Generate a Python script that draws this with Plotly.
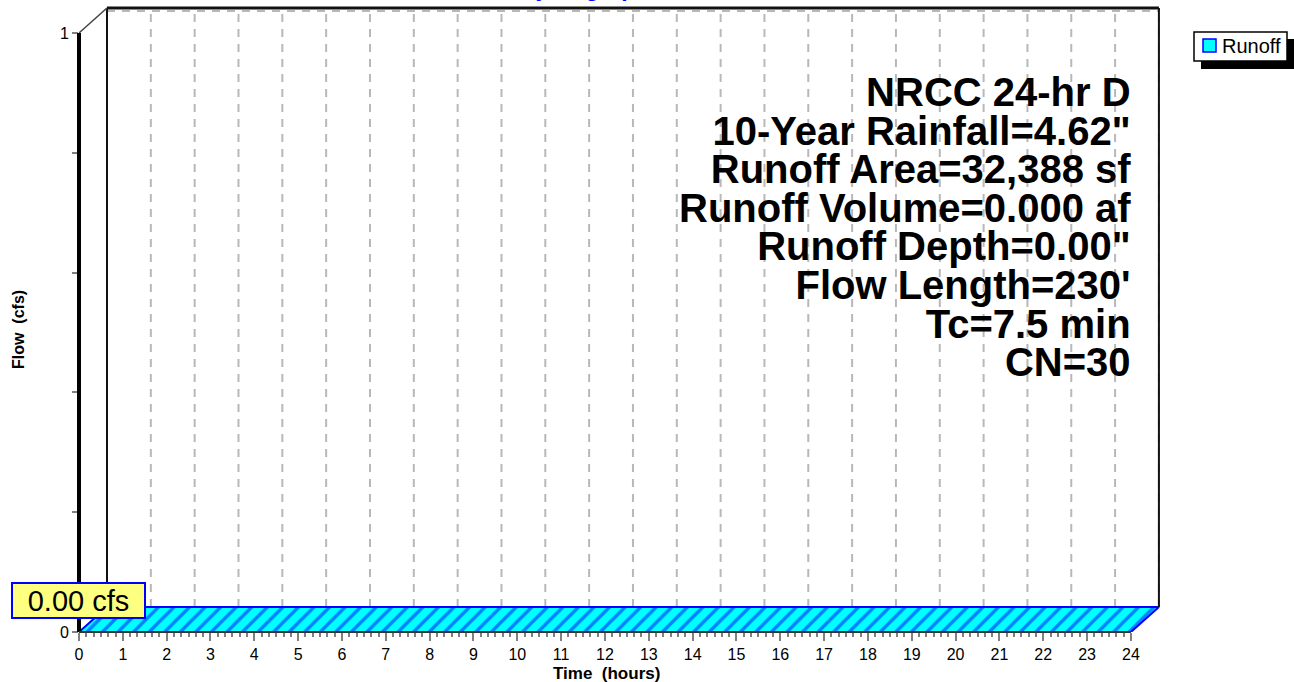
import plotly.graph_objects as go

# Runoff hydrograph values (cfs) at each hour
hours = [0, 1, 2, 3, 4, 5, 6, 7, 8, 9, 10, 11, 12,
         13, 14, 15, 16, 17, 18, 19, 20, 21, 22, 23, 24]
flow_cfs = [0.00, 0.00, 0.00, 0.00, 0.00, 0.00, 0.00, 0.00, 0.00, 0.00, 0.00, 0.00, 0.00,
            0.00, 0.00, 0.00, 0.00, 0.00, 0.00, 0.00, 0.00, 0.00, 0.00, 0.00, 0.00]

info_lines = [
    "NRCC 24-hr D",
    "10-Year Rainfall=4.62\"",
    "Runoff Area=32,388 sf",
    "Runoff Volume=0.000 af",
    "Runoff Depth=0.00\"",
    "Flow Length=230'",
    "Tc=7.5 min",
    "CN=30",
]

x_tickvals = list(range(0, 25))
x_ticktext = [str(h) for h in x_tickvals]
y_tickvals = [0, 0.2, 0.4, 0.6, 0.8, 1]
y_ticktext = ["0", "", "", "", "", "1"]

FONT = "Liberation Sans, Arial, sans-serif"

# pixel geometry of the plot area
W, H = 1294, 682
L, R, T, B = 79, 124, 2, 50
PW, PH = W - L - R, H - T - B
PX_PER_HR = 43.83
PX_PER_CFS = 599.0
DX = 28 / PX_PER_HR      # depth offset of the 3d back plane
DY = 25 / PX_PER_CFS


def px(xp):
    return (xp - L) / PW


def py(yp):
    return (H - B - yp) / PH


fig = go.Figure()

# hatched runoff ribbon (front edge + offset back edge)
rib_x = hours + [h + DX for h in reversed(hours)] + [hours[0]]
rib_y = flow_cfs + [f + DY for f in reversed(flow_cfs)] + [flow_cfs[0]]
fig.add_trace(go.Scatter(
    x=rib_x, y=rib_y, name="Runoff", mode="lines",
    fill="toself", fillcolor="#00ffff",
    fillpattern=dict(shape="/", fgcolor="#0000ff", bgcolor="#00ffff", size=11, solidity=0.3),
    line=dict(color="#0000ff", width=2),
    showlegend=False, hoverinfo="skip",
))

shapes = []
grid = dict(color="#b8b8b8", width=2, dash="8px,7px")
for h in hours:
    shapes.append(dict(type="line", x0=h + DX, x1=h + DX, y0=DY, y1=1 + DY,
                       line=grid, layer="below"))
shapes.append(dict(type="line", x0=DX, x1=24 + DX, y0=1 + DY - 3 / PX_PER_CFS,
                   y1=1 + DY - 3 / PX_PER_CFS, line=grid, layer="below"))
# back plane border
shapes.append(dict(type="line", x0=DX, x1=24 + DX, y0=1 + DY, y1=1 + DY,
                   line=dict(color="#111111", width=3)))
shapes.append(dict(type="line", x0=24 + DX, x1=24 + DX, y0=DY, y1=1 + DY,
                   line=dict(color="#111111", width=2)))
shapes.append(dict(type="line", x0=DX, x1=DX, y0=DY, y1=1 + DY,
                   line=dict(color="#111111", width=2)))
shapes.append(dict(type="line", x0=0, x1=DX, y0=1, y1=1 + DY,
                   line=dict(color="#444444", width=1.5)))
# front axes
shapes.append(dict(type="line", xref="paper", x0=0, x1=0, yref="y", y0=0, y1=1,
                   line=dict(color="#000000", width=4)))
shapes.append(dict(type="line", xref="x", x0=0, x1=24, yref="paper", y0=0, y1=0,
                   line=dict(color="#333333", width=2)))

# legend box with shadow
shapes.append(dict(type="rect", xref="paper", yref="paper",
                   x0=px(1201), x1=px(1296), y0=py(39), y1=py(69),
                   fillcolor="#000000", line=dict(width=0)))
shapes.append(dict(type="rect", xref="paper", yref="paper",
                   x0=px(1194), x1=px(1287), y0=py(32), y1=py(61),
                   fillcolor="#ffffff", line=dict(color="#000000", width=1.5)))
shapes.append(dict(type="rect", xref="paper", yref="paper",
                   x0=px(1203), x1=px(1216), y0=py(39), y1=py(52),
                   fillcolor="#00ffff", line=dict(color="#0000ff", width=1.5)))

annotations = []
annotations.append(dict(xref="paper", yref="paper", x=px(1220), y=py(46),
                        xanchor="left", yanchor="middle", showarrow=False,
                        text="Runoff", font=dict(family=FONT, size=20, color="#000000")))

# info block: one text, tight line spacing (base size sets the spacing)
info_text = "<br>".join('<span style="font-size:40px"><b>%s</b></span>' % s for s in info_lines)
annotations.append(dict(xref="paper", yref="paper", x=px(1133), y=py(227),
                        xanchor="right", yanchor="middle", align="right", showarrow=False,
                        text=info_text,
                        font=dict(family=FONT, size=38.6 / 1.3, color="#000000")))

annotations.append(dict(xref="paper", yref="paper", x=px(78.5), y=py(600.5),
                        xanchor="center", yanchor="middle", showarrow=False,
                        text="%.2f cfs" % max(flow_cfs), width=131, height=33,
                        bgcolor="#ffff80", bordercolor="#0000ff", borderwidth=2, borderpad=0,
                        font=dict(family=FONT, size=29, color="#000000")))

annotations.append(dict(xref="paper", yref="paper", x=px(19), y=py(330),
                        xanchor="center", yanchor="middle", showarrow=False, textangle=-90,
                        text="<b>Flow\u00a0 (cfs)</b>",
                        font=dict(family=FONT, size=16, color="#000000")))
annotations.append(dict(xref="paper", yref="paper", x=px(606), y=py(673),
                        xanchor="center", yanchor="middle", showarrow=False,
                        text="<b>Time\u00a0 (hours)</b>",
                        font=dict(family=FONT, size=17, color="#000000")))
# title, mostly cut off at the top edge
annotations.append(dict(xref="paper", yref="paper", x=px(584), y=py(3.5),
                        xanchor="center", yanchor="bottom", showarrow=False,
                        text="<b>Hydrograph</b>",
                        font=dict(family=FONT, size=23, color="#0000ff")))

minor_vals = [k / 6 for k in range(0, 24 * 6 + 1)]

fig.update_layout(
    width=W, height=H,
    margin=dict(l=L, r=R, t=T, b=B),
    paper_bgcolor="white", plot_bgcolor="white",
    showlegend=False,
    shapes=shapes, annotations=annotations,
    xaxis=dict(range=[0, PW / PX_PER_HR], showgrid=False, zeroline=False, showline=False,
               tickmode="array", tickvals=x_tickvals, ticktext=x_ticktext,
               ticks="outside", ticklen=8, tickwidth=2, tickcolor="#808080",
               minor=dict(tickmode="array", tickvals=minor_vals, ticks="outside",
                          ticklen=4, tickwidth=1.5, tickcolor="#808080", showgrid=False),
               tickfont=dict(family=FONT, size=16, color="#000000"), fixedrange=True),
    yaxis=dict(range=[0, PH / PX_PER_CFS], showgrid=False, zeroline=False, showline=False,
               tickmode="array", tickvals=y_tickvals, ticktext=y_ticktext,
               ticks="outside", ticklen=6, tickwidth=1.5, tickcolor="#808080",
               tickfont=dict(family=FONT, size=16, color="#000000"), fixedrange=True),
)

fig.write_html("out.html", config={"displayModeBar": False},
               post_script="document.body.style.margin='0px';")
